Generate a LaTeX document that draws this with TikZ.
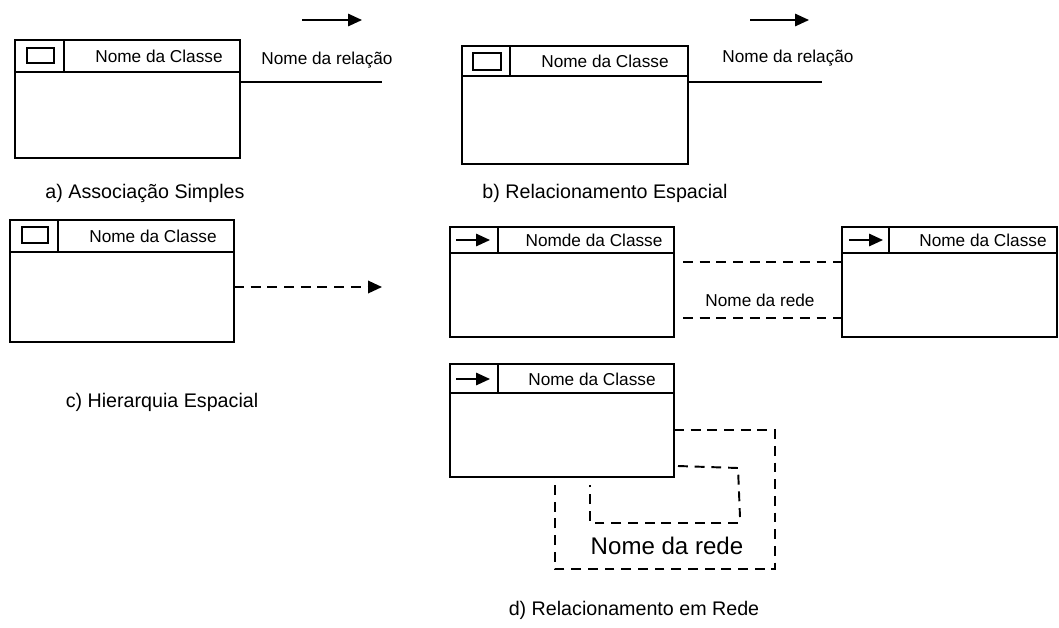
\documentclass[tikz,border=0pt]{standalone}
\usepackage{fontspec}
\setmainfont{Liberation Sans}
\usepackage{tikz}
\usetikzlibrary{arrows.meta}
\usetikzlibrary{positioning}

\tikzset{
    classbox/.style={
        draw,
        line width=1.1pt,
        inner sep=0pt,
        outer sep=0pt,
        anchor=north west
    },
    boxline/.style={line width=1.1pt},
    classicon/.style={line width=1pt},
    classname/.style={font=\fontsize{9.8}{11}\selectfont, inner sep=0pt},
    caption/.style={font=\fontsize{11.2}{13}\selectfont, inner sep=0pt},
    reltip/.style={line width=0.9pt, -{Triangle[length=0.28cm, width=0.25cm]}},
    netline/.style={line width=1.1pt, dash pattern=on 5.6pt off 3.9pt},
}

% box: name, x1, y1, x2, y2, header line y, divider x
\newcommand{\classbox}[7]{%
    \node[classbox, minimum width={(#4-#2)*0.02cm}, minimum height={(#5-#3)*0.02cm}] (#1) at (#2,#3) {};
    \draw[boxline] (#2,#6) -- (#4,#6);
    \draw[boxline] (#7,#3) -- (#7,#6);
}

\begin{document}
\begin{tikzpicture}[x=0.02cm, y=-0.02cm]
        \useasboundingbox (0,0) rectangle (1059,627);

        % a) Associacao Simples
        \classbox{boxA}{15}{40}{240}{158}{72}{64}
        \draw[classicon] (27,48) rectangle (54,63);
        \node[classname] (nameA) at (159,56) {Nome da Classe};
        \coordinate (arrA1) at (302,20);
        \coordinate (arrA2) at (362,20);
        \draw[reltip] (arrA1) -- (arrA2);
        \node[classname] (relA) at (327,60) {Nome da relação};
        \coordinate (endA) at (382,82);
        \draw[boxline] (boxA.east |- endA) -- (endA);
        \node[caption] (capA) at (145,193) {a) Associação Simples};

        % b) Relacionamento Espacial
        \classbox{boxB}{462}{46}{688}{164}{76}{510}
        \draw[classicon] (473,53) rectangle (501,70);
        \node[classname] (nameB) at (605,61) {Nome da Classe};
        \coordinate (arrB1) at (750,20);
        \coordinate (arrB2) at (809,20);
        \draw[reltip] (arrB1) -- (arrB2);
        \node[classname] (relB) at (788,58) {Nome da relação};
        \coordinate (endB) at (822,82);
        \draw[boxline] (boxB.east |- endB) -- (endB);
        \node[caption] (capB) at (605,193) {b) Relacionamento Espacial};

        % c) Hierarquia Espacial
        \classbox{boxC}{10}{220}{234}{342}{252}{58}
        \draw[classicon] (22,227) rectangle (48,243);
        \node[classname] (nameC) at (153,236) {Nome da Classe};
        \coordinate (endC) at (382,287);
        \draw[netline, reltip, line width=1.1pt] (boxC.east |- endC) -- (endC);
        \node[caption] (capC) at (162,402) {c) Hierarquia Espacial};

        % d) Relacionamento em Rede
        \classbox{boxD1}{450}{227}{674}{337}{253}{498}
        \draw[reltip] (456,240) -- (490,240);
        \node[classname] (nameD1) at (594,240) {Nomde da Classe};

        \classbox{boxD2}{842}{227}{1057}{337}{253}{889}
        \draw[reltip] (849,240) -- (883,240);
        \node[classname] (nameD2) at (983,240) {Nome da Classe};

        \coordinate (redeT) at (683,262);
        \coordinate (redeB) at (683,318);
        \draw[netline] (redeT) -- (redeT -| boxD2.west);
        \draw[netline] (redeB) -- (redeB -| boxD2.west);
        \node[classname] (redeD) at (760,300) {Nome da rede};

        \classbox{boxD3}{450}{364}{674}{477}{393}{498}
        \draw[reltip] (456,379) -- (490,379);
        \node[classname] (nameD3) at (592,379) {Nome da Classe};

        % outer loop
        \coordinate (lacoE1) at (775,430);
        \coordinate (lacoE2) at (775,569);
        \coordinate (lacoE3) at (555,569);
        \draw[netline] (boxD3.east |- lacoE1) -- (lacoE1) -- (lacoE2) -- (lacoE3) -- (lacoE3 |- boxD3.south);

        % inner loop
        \coordinate (lacoI0) at (678,466);
        \coordinate (lacoI1) at (738,468);
        \coordinate (lacoI2) at (740,517);
        \coordinate (lacoI3) at (738,523);
        \coordinate (lacoI4) at (590,523);
        \coordinate (lacoI5) at (590,485);
        \draw[netline] (lacoI0) -- (lacoI1) -- (lacoI2);
        \draw[netline] (lacoI3) -- (lacoI4) -- (lacoI5);
        \node[font=\fontsize{13.7}{16}\selectfont, inner sep=0pt] (redeLaco) at (667,546) {Nome da rede};

        \node[caption] (capD) at (634,610) {d) Relacionamento em Rede};
\end{tikzpicture}
\end{document}
